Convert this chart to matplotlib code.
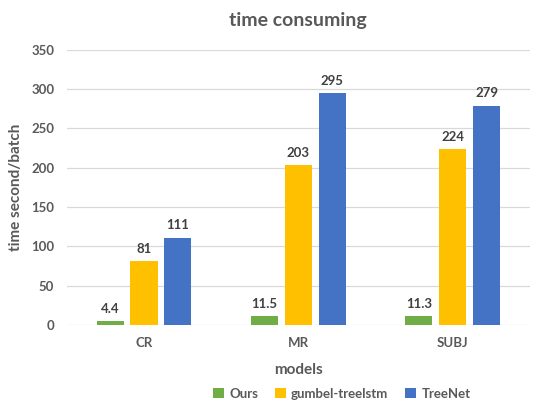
import numpy as np
import matplotlib.pyplot as plt

# data
datasets = ["CR", "MR", "SUBJ"]
ours = [4.4, 11.5, 11.3]
gumbel = [81, 203, 224]
treenet = [111, 295, 279]
series_names = ["Ours", "gumbel-treelstm", "TreeNet"]

plt.rcParams['font.family'] = ['Lato', 'DejaVu Sans']
txt = '#595959'

fig = plt.figure(figsize=(5.39, 4.03), dpi=100)
ax = fig.add_axes([0.124, 0.194, 0.859, 0.682])

x = np.arange(len(datasets))
w = 0.175
step = 0.22
colors = ['#70AD47', '#FFC000', '#4472C4']
for i, (vals, name, c) in enumerate(zip([ours, gumbel, treenet], series_names, colors)):
    bars = ax.bar(x + (i - 1) * step, vals, w, color=c, label=name, zorder=3)
    for b, v in zip(bars, vals):
        ax.text(b.get_x() + b.get_width() / 2, v + 8, f"{v:g}", ha='center', va='bottom',
                fontsize=9.5, fontweight='bold', color='#404040')

ax.set_xlim(-0.5, 2.5)
ax.set_ylim(0, 350)
ax.set_yticks(range(0, 351, 50))
ax.set_xticks(x)
ax.set_xticklabels(datasets)
ax.grid(axis='y', color='#D9D9D9', linewidth=0.9, zorder=0)
for s in ax.spines.values():
    s.set_visible(False)
ax.tick_params(length=0, labelsize=9.5, labelcolor=txt, pad=9)
for lbl in ax.get_xticklabels() + ax.get_yticklabels():
    lbl.set_fontweight('bold')

ax.set_title("time consuming", fontsize=14, fontweight='bold', color=txt, pad=17)
ax.set_xlabel("models", fontsize=11, fontweight='bold', color=txt, labelpad=10)
ax.set_ylabel("time second/batch", fontsize=11, fontweight='bold', color=txt, labelpad=6)

leg = ax.legend(loc='upper center', bbox_to_anchor=(0.594, -0.185), ncol=3, frameon=False,
                fontsize=9.5, handlelength=0.8, handleheight=0.8, handletextpad=0.4, columnspacing=1.3)
for t in leg.get_texts():
    t.set_color(txt)
    t.set_fontweight('bold')

fig.savefig("out.png", dpi=100)
